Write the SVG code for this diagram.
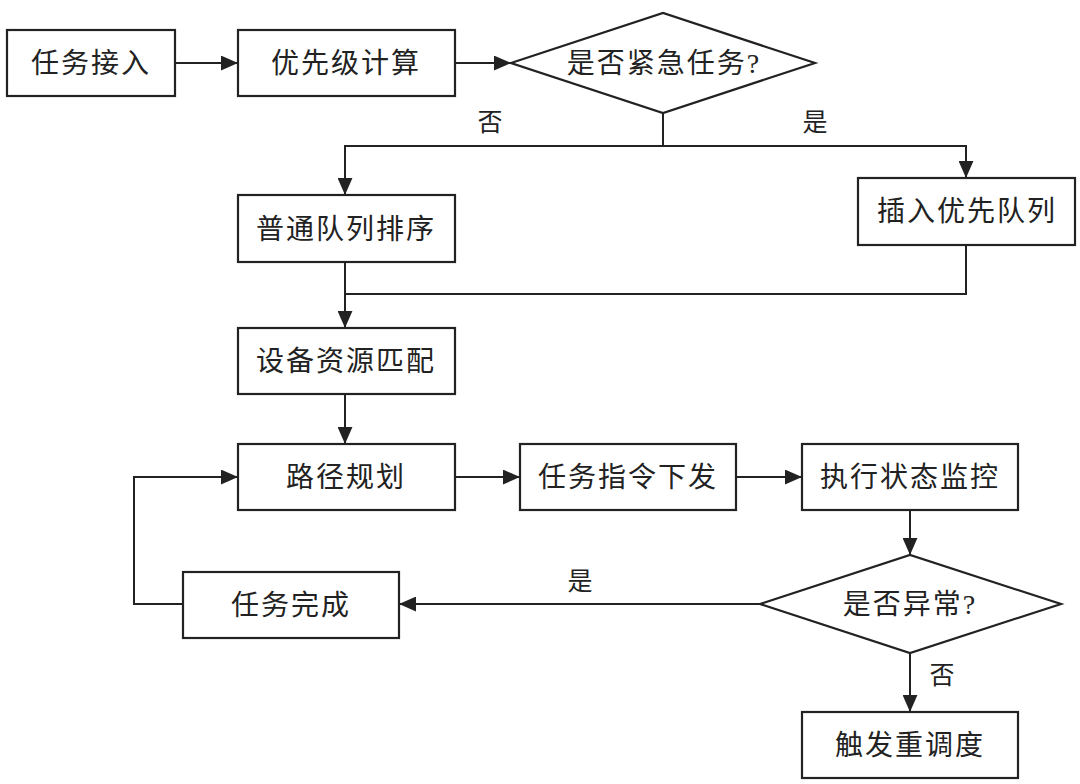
<svg xmlns="http://www.w3.org/2000/svg" width="1080" height="784" viewBox="0 0 1080 784">
<defs>
<marker id="arr" viewBox="0 0 16 14" refX="16" refY="7" markerWidth="17" markerHeight="15" markerUnits="userSpaceOnUse" orient="auto">
<path d="M0,0 L16,7 L0,14 Z" fill="#222"/>
</marker>
<style>
.box{fill:#fff;stroke:#222;stroke-width:2.2}
.t{font-family:"Liberation Serif","Noto Sans CJK SC",serif;font-size:28px;fill:#222;text-anchor:middle;dominant-baseline:central;letter-spacing:2px}
.lb{font-family:"Liberation Serif","Noto Sans CJK SC",serif;font-size:25px;fill:#222;text-anchor:middle;dominant-baseline:central}
.c{fill:none;stroke:#222;stroke-width:2}
.a{marker-end:url(#arr)}
</style>
</defs>
<rect width="1080" height="784" fill="#fff"/>
<g id="connectors">
<path class="c a" d="M175,63 H238"/>
<path class="c a" d="M455,63 H511"/>
<path class="c" d="M663,113 V146"/>
<path class="c a" d="M663,146 H345 V195"/>
<path class="c a" d="M663,146 H966 V178"/>
<path class="c a" d="M345,262 V328"/>
<path class="c" d="M966,245 V294 H345"/>
<path class="c a" d="M345,394 V444"/>
<path class="c a" d="M455,477 H520"/>
<path class="c a" d="M736,477 H802"/>
<path class="c a" d="M910,510 V555"/>
<path class="c a" d="M760,604 H399"/>
<path class="c a" d="M910,653 V712"/>
<path class="c a" d="M183,604 H134 V477 H238"/>
<text class="lb" x="490" y="122">否</text>
<text class="lb" x="815" y="122">是</text>
<text class="lb" x="580" y="581">是</text>
<text class="lb" x="942" y="675">否</text>
</g>
<g id="n1"><rect class="box" x="7" y="30" width="168" height="66"/><text class="t" x="91" y="63">任务接入</text></g>
<g id="n2"><rect class="box" x="238" y="30" width="217" height="66"/><text class="t" x="346" y="63">优先级计算</text></g>
<g id="n3"><polygon class="box" points="511,63 663,13 815,63 663,113"/><text class="t" x="664" y="63">是否紧急任务?</text></g>
<g id="n4"><rect class="box" x="238" y="195" width="217" height="67"/><text class="t" x="346" y="229">普通队列排序</text></g>
<g id="n5"><rect class="box" x="858" y="178" width="217" height="67"/><text class="t" x="967" y="211">插入优先队列</text></g>
<g id="n6"><rect class="box" x="238" y="328" width="217" height="66"/><text class="t" x="346" y="361">设备资源匹配</text></g>
<g id="n7"><rect class="box" x="238" y="444" width="217" height="66"/><text class="t" x="346" y="477">路径规划</text></g>
<g id="n8"><rect class="box" x="520" y="444" width="216" height="66"/><text class="t" x="628" y="477">任务指令下发</text></g>
<g id="n9"><rect class="box" x="802" y="444" width="216" height="66"/><text class="t" x="910" y="477">执行状态监控</text></g>
<g id="n10"><polygon class="box" points="760,604 910,555 1061,604 910,653"/><text class="t" x="910" y="604">是否异常?</text></g>
<g id="n11"><rect class="box" x="183" y="572" width="216" height="66"/><text class="t" x="291" y="605">任务完成</text></g>
<g id="n12"><rect class="box" x="802" y="712" width="216" height="66"/><text class="t" x="910" y="745">触发重调度</text></g>
</svg>
